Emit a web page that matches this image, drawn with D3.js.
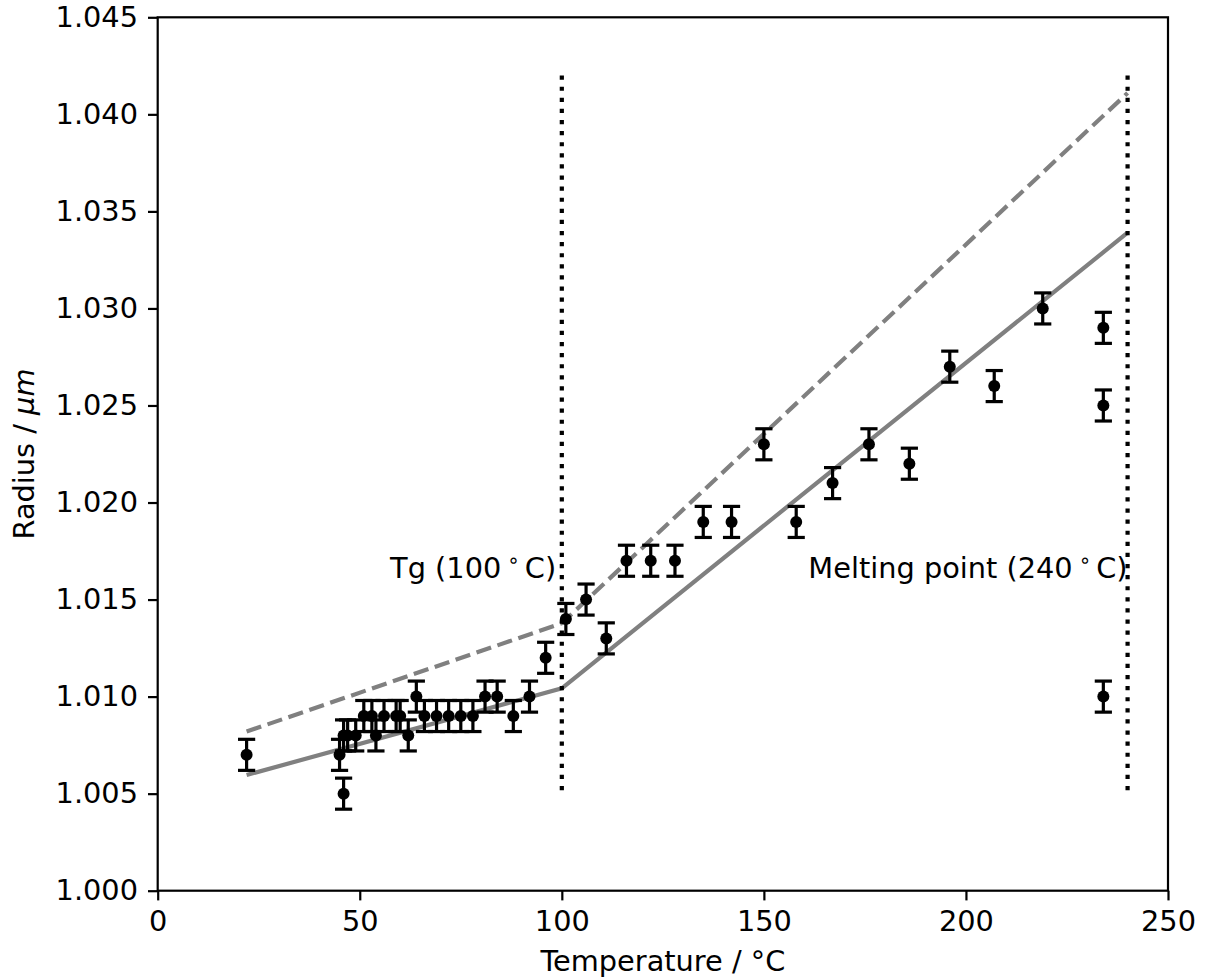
<!DOCTYPE html>
<html>
<head>
<meta charset="UTF-8">
<script src="https://d3js.org/d3.v7.min.js"></script>
<style>
  body { margin: 0; background: #fff; }
  svg text { font-family: "DejaVu Sans", sans-serif; fill: #000; }
</style>
</head>
<body>
<svg></svg>
<script>
// measured radius vs temperature
const temps = [22, 45, 46, 46, 47, 49, 51, 53, 54, 56, 59, 60, 62, 64, 66, 69, 72, 75, 78, 81, 84, 88, 92, 96,
               101, 106, 111, 116, 122, 128, 135, 142, 150, 158, 167, 176, 186, 196, 207, 219, 234, 234, 234];
const radii = [1.007, 1.007, 1.005, 1.008, 1.008, 1.008, 1.009, 1.009, 1.008, 1.009, 1.009, 1.009, 1.008, 1.010,
               1.009, 1.009, 1.009, 1.009, 1.009, 1.010, 1.010, 1.009, 1.010, 1.012,
               1.014, 1.015, 1.013, 1.017, 1.017, 1.017, 1.019, 1.019, 1.023, 1.019, 1.021, 1.023, 1.022,
               1.027, 1.026, 1.030, 1.029, 1.025, 1.010];
const radiusErr = 0.0008;

// model lines (solid and dashed)
const modelT = [22, 100, 240];
const modelSolid = [1.00596, 1.01043, 1.0339];
const modelDashed = [1.0082, 1.01378, 1.0411];

// transition markers
const transT = [100, 240];
const transLabels = ["Tg (100", "Melting point (240"];
const transLabelT = [98.6, 240];
const vlineRange = [1.005, 1.042];

const xTicks = [0, 50, 100, 150, 200, 250];
const yTicks = [1.000, 1.005, 1.010, 1.015, 1.020, 1.025, 1.030, 1.035, 1.040, 1.045];

const width = 1205, height = 980;
const margin = {left: 157.7, top: 17.3, right: 1205 - 1168, bottom: 980 - 890.7};
const fs = 28.8;

const svg = d3.select("svg").attr("width", width).attr("height", height);

const x = d3.scaleLinear().domain([0, 250]).range([margin.left, width - margin.right]);
const y = d3.scaleLinear().domain([1.000, 1.045]).range([height - margin.bottom, margin.top]);

// model lines
const solidPts = modelT.map((t, i) => [t, modelSolid[i]]);
const dashedPts = modelT.map((t, i) => [t, modelDashed[i]]);
const line = d3.line().x(d => x(d[0])).y(d => y(d[1]));

svg.append("path")
    .attr("d", line(dashedPts))
    .attr("fill", "none")
    .attr("stroke", "#808080")
    .attr("stroke-width", 4.2)
    .attr("stroke-dasharray", "15.4,6.7");

svg.append("path")
    .attr("d", line(solidPts))
    .attr("fill", "none")
    .attr("stroke", "#808080")
    .attr("stroke-width", 4.2);

// dotted vertical lines
svg.selectAll(".vline")
    .data(transT)
    .enter()
    .append("line")
    .attr("x1", d => x(d)).attr("x2", d => x(d))
    .attr("y1", y(vlineRange[1])).attr("y2", y(vlineRange[0]))
    .attr("stroke", "#000")
    .attr("stroke-width", 4.2)
    .attr("stroke-dasharray", "4.2,6.9");

// labels
transLabels.forEach((lab, i) => {
    const t = svg.append("text")
        .attr("x", x(transLabelT[i]))
        .attr("y", y(1.0161))
        .attr("text-anchor", "end")
        .style("font-size", fs + "px");
    t.append("tspan").text(lab);
    t.append("tspan").attr("dx", 6).attr("dy", -11).style("font-size", "20px").text("\u2218");
    t.append("tspan").attr("dx", 5).attr("dy", 11).text("C)");
});

// error bars and points
const pts = temps.map((t, i) => ({t: t, r: radii[i]}));
const eb = svg.append("g");
eb.selectAll(".err")
    .data(pts)
    .enter()
    .append("line")
    .attr("x1", d => x(d.t)).attr("x2", d => x(d.t))
    .attr("y1", d => y(d.r - radiusErr)).attr("y2", d => y(d.r + radiusErr))
    .attr("stroke", "#000").attr("stroke-width", 3.2);
[-1, 1].forEach(s => {
    eb.selectAll(".cap" + s)
        .data(pts)
        .enter()
        .append("line")
        .attr("x1", d => x(d.t) - 8.6).attr("x2", d => x(d.t) + 8.6)
        .attr("y1", d => y(d.r + s * radiusErr)).attr("y2", d => y(d.r + s * radiusErr))
        .attr("stroke", "#000").attr("stroke-width", 3.2);
});
svg.append("g").selectAll("circle")
    .data(pts)
    .enter()
    .append("circle")
    .attr("cx", d => x(d.t))
    .attr("cy", d => y(d.r))
    .attr("r", 6)
    .attr("fill", "#000");

// axes
const xAxis = svg.append("g")
    .attr("transform", "translate(0," + (height - margin.bottom) + ")")
    .call(d3.axisBottom(x).tickValues(xTicks).tickFormat(d3.format("d")).tickSizeOuter(0).tickSize(9.7).tickPadding(10));
const yAxis = svg.append("g")
    .attr("transform", "translate(" + margin.left + ",0)")
    .call(d3.axisLeft(y).tickValues(yTicks).tickFormat(d3.format(".3f")).tickSizeOuter(0).tickSize(9.7).tickPadding(10));
[xAxis, yAxis].forEach(a => {
    a.select(".domain").remove();
    a.selectAll("line").attr("stroke", "#000").attr("stroke-width", 2.2);
    a.selectAll("text").style("font-size", fs + "px").style("font-family", "DejaVu Sans");
});

// frame
svg.append("rect")
    .attr("x", margin.left).attr("y", margin.top)
    .attr("width", x(250) - margin.left)
    .attr("height", y(1.0) - margin.top)
    .attr("fill", "none")
    .attr("stroke", "#000")
    .attr("stroke-width", 2.2);

// axis titles
svg.append("text")
    .attr("x", (x(0) + x(250)) / 2)
    .attr("y", 971)
    .attr("text-anchor", "middle")
    .style("font-size", fs + "px")
    .text("Temperature / \u00b0C");

const yl = svg.append("text")
    .attr("transform", "translate(34," + ((y(1.0) + y(1.045)) / 2) + ") rotate(-90)")
    .attr("text-anchor", "middle")
    .style("font-size", fs + "px");
yl.append("tspan").text("Radius / ");
yl.append("tspan").style("font-style", "italic").text("\u03bcm");
</script>
</body>
</html>
